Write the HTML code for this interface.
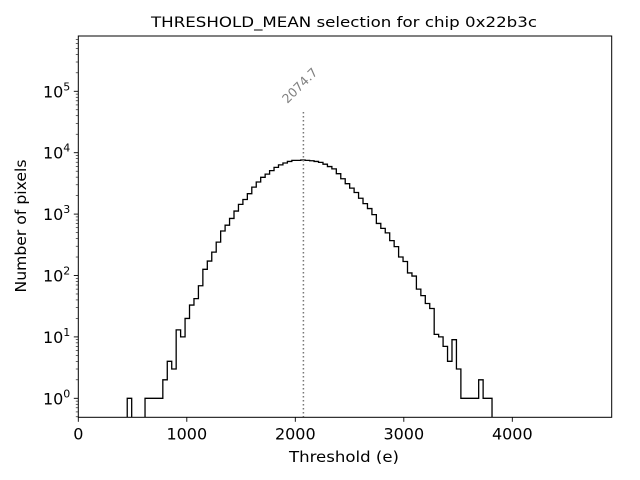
<!DOCTYPE html>
<html><head><meta charset="utf-8"><style>
html,body{margin:0;padding:0;background:#fff;}
svg{display:block;font-family:"DejaVu Sans","Liberation Sans",sans-serif;}
</style></head><body>
<svg id="chart" width="640" height="480" viewBox="0 0 640 480" xmlns="http://www.w3.org/2000/svg">
<rect x="0" y="0" width="640" height="480" fill="#fff"/>
<text x="344" y="27" font-size="14" text-anchor="middle" textLength="386" lengthAdjust="spacingAndGlyphs">THRESHOLD_MEAN selection for chip 0x22b3c</text>
<g id="plot"></g>
<text x="344" y="462" font-size="15" text-anchor="middle" textLength="110" lengthAdjust="spacingAndGlyphs">Threshold (e)</text>
<text x="26" y="226" font-size="15" text-anchor="middle" transform="rotate(-90 26 226)" textLength="133" lengthAdjust="spacingAndGlyphs">Number of pixels</text>
</svg>
<script>
const binStart = 0;
const binWidth = 41;
const counts = [0,0,0,0,0,0,0,0,0,0,0,1,0,0,0,1,1,1,1,2,4,3,13,10,20,33,42,68,126,172,240,350,530,660,850,1120,1440,1730,2150,2750,3330,3970,4480,5110,5760,6340,6800,7200,7500,7500,7600,7500,7400,7200,6950,6500,5950,5450,4550,3770,3130,2650,2250,1810,1480,1230,980,705,585,495,370,295,200,169,110,98,60,47,35,29,11,10,7,4,9,3,1,1,1,1,2,1,1];
const meanValue = 2074.7;
const xTicks = [0,1000,2000,3000,4000];
const yTickExps = [0,1,2,3,4,5];

const L=78.3,R=611.7,T=36,B=417.3;
const xMin=0,xMax=4916;
const y0=398.3,dec=61.4;
function xs(v){return L+(v-xMin)/(xMax-xMin)*(R-L);}
function ys(v){return y0-Math.log10(v)*dec;}
const NS="http://www.w3.org/2000/svg";
const g=document.getElementById('plot');
function mk(tag,attrs,parent){const e=document.createElementNS(NS,tag);for(const k in attrs)e.setAttribute(k,attrs[k]);(parent||g).appendChild(e);return e;}

// histogram step path: separate subpaths for runs of nonzero bins
let d="";
for(let i=0;i<counts.length;i++){
  const c=counts[i];
  if(c<=0)continue;
  const x0=xs(binStart+i*binWidth),x1=xs(binStart+(i+1)*binWidth);
  const yc=ys(c);
  const prev=i>0?counts[i-1]:0;
  if(prev<=0){d+=" M"+x0+","+(B+2)+" L"+x0+","+yc;}
  else{d+=" L"+x0+","+yc;}
  d+=" L"+x1+","+yc;
  const next=i+1<counts.length?counts[i+1]:0;
  if(next<=0){d+=" L"+x1+","+(B+2);}
}
const clip=mk('clipPath',{id:'cp'});mk('rect',{x:L,y:T,width:R-L,height:B-T},clip);
const hist=mk('path',{d:d,fill:'none',stroke:'#000','stroke-width':1.3,'clip-path':'url(#cp)'});



// mean line
const mx=xs(meanValue);
const ml=mk('line',{x1:mx,y1:112,x2:mx,y2:B,stroke:'#777','stroke-width':1.5,'stroke-dasharray':'1.5,2.5'});


const mt=mk('text',{x:mx-16,y:104,'font-size':12.5,fill:'#808080',transform:'rotate(-45 '+(mx-16)+' 104)'});
mt.textContent=meanValue.toFixed(1);



// frame
const fr=mk('rect',{x:L,y:T,width:R-L,height:B-T,fill:'none',stroke:'#000','stroke-width':1});



// x ticks
xTicks.forEach(v=>{
  const x=xs(v);
  const t=mk('line',{x1:x,y1:B,x2:x,y2:B+4.5,stroke:'#000','stroke-width':0.9});
  
  
  const l=mk('text',{x:x,y:B+22,'font-size':16,'text-anchor':'middle'});
  l.textContent=v;
  
  
});
// y ticks
yTickExps.forEach(e=>{
  const y=ys(Math.pow(10,e));
  const t=mk('line',{x1:L-4.5,y1:y,x2:L,y2:y,stroke:'#000','stroke-width':0.9});
  
  
  const l=mk('text',{x:L-8,y:y+6,'font-size':16,'text-anchor':'end'});
  
  
  const b=document.createElementNS(NS,'tspan');b.textContent='10';l.appendChild(b);
  const s=document.createElementNS(NS,'tspan');s.setAttribute('dy','-7');s.setAttribute('font-size','11');s.textContent=e;l.appendChild(s);
});
// minor y ticks
for(let e=-1;e<=6;e++){for(let m=2;m<=9;m++){
  const v=m*Math.pow(10,e);const y=ys(v);
  if(y<T||y>B)continue;
  const t=mk('line',{x1:L-2.5,y1:y,x2:L,y2:y,stroke:'#000','stroke-width':0.6});
  
  
}}
</script>
</body></html>
